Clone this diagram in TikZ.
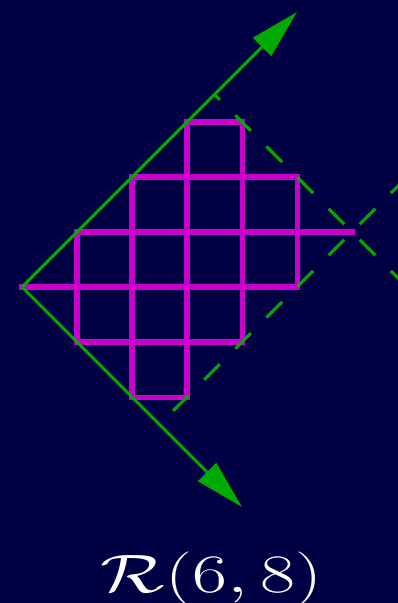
\documentclass[tikz,border=0pt]{standalone}
\usepackage{xcolor}
\definecolor{bgnavy}{HTML}{000044}
\definecolor{axisgreen}{HTML}{00AA00}
\definecolor{cellmagenta}{HTML}{CC00CC}
\usepackage{tikz}
\usetikzlibrary{arrows.meta, positioning}
\usepackage{amsmath}
\usepackage{graphicx}

\begin{document}
\begin{tikzpicture}[
    axis/.style={-{Triangle[length=0.9cm, width=0.46cm]}, line width=1.55pt, color=axisgreen},
    bound/.style={dash pattern=on 0.4cm off 0.4cm, dash phase=0.6cm, line width=1.55pt, color=axisgreen},
    cell/.style={line width=2.6pt, color=cellmagenta, line cap=rect},
]
    \path[fill=bgnavy, use as bounding box] (-0.4,-5.745) rectangle (6.836,5.218);
    \clip (-0.4,-5.745) rectangle (6.836,5.218);

    % staircase cells
    \foreach \y/\a/\b in {3/3/4, 2/2/5, 1/1/6, 0/0/5, -1/1/4, -2/2/3}
        \draw[cell] (\a,\y) -- (\b,\y);
    \foreach \x/\a/\b in {1/1/-1, 2/2/-2, 3/3/-2, 4/3/-1, 5/2/0}
        \draw[cell] (\x,\a) -- (\x,\b);

    % dashed bounds
    \coordinate (cross) at (6,1);
    \coordinate (a1) at (3.5,3.5);
    \coordinate (a2) at (2.5,-2.5);
    \coordinate (e1) at (8,-1);
    \coordinate (e2) at (8,3);
    \draw[bound] (cross) -- (a1);
    \draw[bound] (cross) -- (a2);
    \draw[bound] (cross) -- (e1);
    \draw[bound] (cross) -- (e2);

    % axes
    \coordinate (o) at (0,0);
    \coordinate (utip) at (5,5);
    \coordinate (dtip) at (4,-4);
    \draw[axis] (o) -- (utip);
    \draw[axis] (o) -- (dtip);

    \node[text=white, font=\Huge, anchor=base, inner sep=0pt] (lbl) at (3.445,-5.545) {\scalebox{1.58}[1.125]{$\mathcal{R}(6,8)$}};
\end{tikzpicture}
\end{document}
